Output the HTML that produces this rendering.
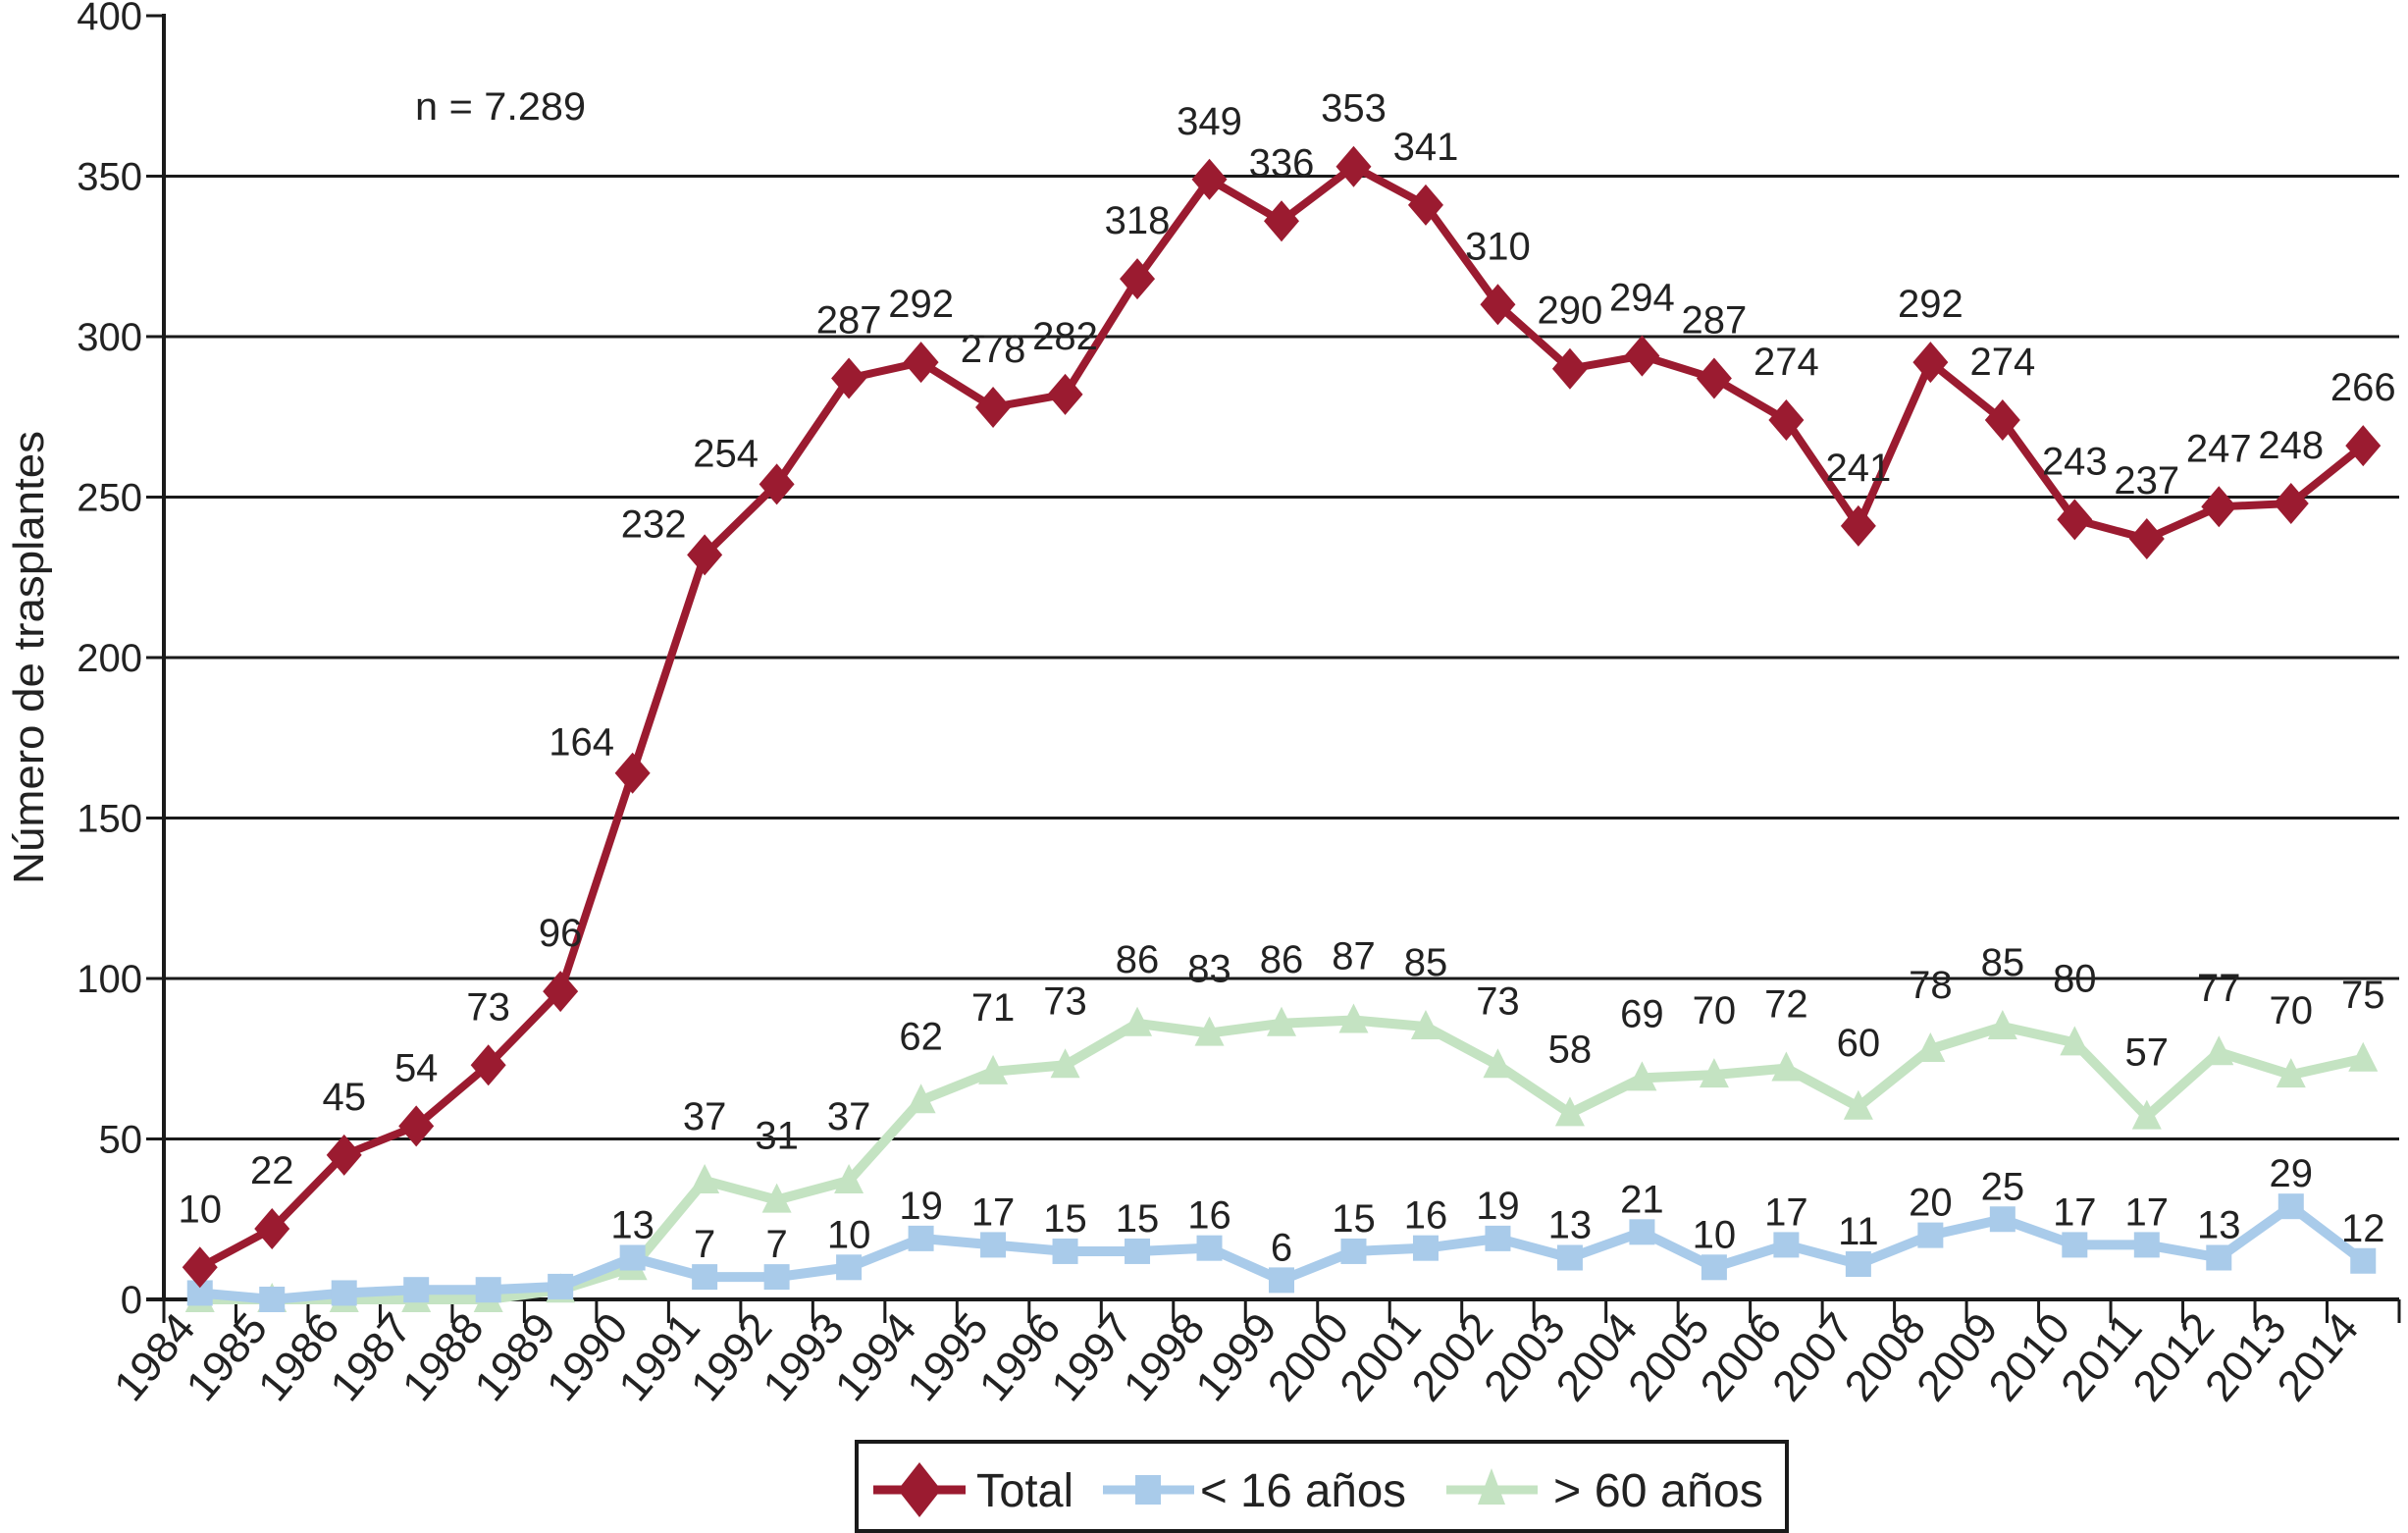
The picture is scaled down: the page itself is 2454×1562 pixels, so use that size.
<!DOCTYPE html>
<html><head><meta charset="utf-8"><style>
html,body{margin:0;padding:0;background:#fff;}
svg{display:block;font-family:"Liberation Sans",Arial,sans-serif;}
</style></head><body>
<svg id="chart" width="2454" height="1562" viewBox="0 0 2454 1562" xmlns="http://www.w3.org/2000/svg"></svg>
<script>
const years = [1984,1985,1986,1987,1988,1989,1990,1991,1992,1993,1994,1995,1996,1997,1998,1999,2000,2001,2002,2003,2004,2005,2006,2007,2008,2009,2010,2011,2012,2013,2014];
const totalValues = [10,22,45,54,73,96,164,232,254,287,292,278,282,318,349,336,353,341,310,290,294,287,274,241,292,274,243,237,247,248,266];
const under16Values = [2,0,2,3,3,4,13,7,7,10,19,17,15,15,16,6,15,16,19,13,21,10,17,11,20,25,17,17,13,29,12];
const over60Values = [0,0,0,0,0,3,10,37,31,37,62,71,73,86,83,86,87,85,73,58,69,70,72,60,78,85,80,57,77,70,75];
const yTicks = [0,50,100,150,200,250,300,350,400];
const under16LabelStart = 6;
const over60LabelStart = 7;

const NS = "http://www.w3.org/2000/svg";
const svg = document.getElementById('chart');
const L = 167, R = 2445, TOP = 16, BOT = 1324, YMAX = 400;
const band = (R - L) / years.length;
const xs = i => L + band * (i + 0.5);
const ys = v => BOT - (v / YMAX) * (BOT - TOP);
function mk(tag, attrs, parent) {
  const e = document.createElementNS(NS, tag);
  for (const k in attrs) e.setAttribute(k, attrs[k]);
  (parent || svg).appendChild(e);
  return e;
}
const C_TOT = '#9b1b30', C_BLUE = '#a9cbea', C_GREEN = '#c4e3c2';

yTicks.forEach(v => {
  const y = ys(v);
  if (v > 0 && v < YMAX) {
    const g = mk('line', {x1: L, x2: R, y1: y, y2: y, stroke: '#1a1a1a', 'stroke-width': 3});
    
    
  }
  const t = mk('line', {x1: L - 18, x2: L, y1: y, y2: y, stroke: '#1a1a1a', 'stroke-width': 3});
  
  
  const lb = mk('text', {x: L - 22, y: y + 14, 'text-anchor': 'end', 'font-size': 40, fill: '#222'});
  lb.textContent = v;
  
  
});
const ya = mk('line', {x1: L, x2: L, y1: TOP - 2, y2: BOT, stroke: '#1a1a1a', 'stroke-width': 4});


const xa = mk('line', {x1: L - 18, x2: R, y1: BOT, y2: BOT, stroke: '#1a1a1a', 'stroke-width': 4});



for (let i = 0; i <= years.length; i++) {
  const x = L + band * i;
  const t = mk('line', {x1: x, x2: x, y1: BOT, y2: BOT + 24, stroke: '#1a1a1a', 'stroke-width': 3});
  
  
}
years.forEach((yr, i) => {
  const x = L + band * i + 34, y = BOT + 30;
  const t = mk('text', {x: x, y: y, 'text-anchor': 'end', 'font-size': 44, fill: '#222', textLength: 100, lengthAdjust: 'spacingAndGlyphs', transform: `rotate(-50 ${x} ${y})`});
  t.textContent = yr;
  
  
});

function series(vals, color, width, name) {
  const pts = vals.map((v, i) => xs(i) + ',' + ys(v)).join(' ');
  const p = mk('polyline', {points: pts, fill: 'none', stroke: color, 'stroke-width': width, 'stroke-linejoin': 'round'});
  
  
}
series(over60Values, C_GREEN, 10, 'over60');
series(under16Values, C_BLUE, 10, 'under16');
series(totalValues, C_TOT, 8, 'total');

over60Values.forEach((v, i) => {
  const x = xs(i), y = ys(v);
  const m = mk('polygon', {points: `${x},${y - 17} ${x - 15},${y + 13} ${x + 15},${y + 13}`, fill: C_GREEN});
  
  
});
under16Values.forEach((v, i) => {
  const x = xs(i), y = ys(v);
  const m = mk('rect', {x: x - 13, y: y - 13, width: 26, height: 26, fill: C_BLUE});
  
  
});
totalValues.forEach((v, i) => {
  const x = xs(i), y = ys(v);
  const m = mk('polygon', {points: `${x},${y - 21} ${x + 18},${y} ${x},${y + 21} ${x - 18},${y}`, fill: C_TOT});
  
  
});

totalValues.forEach((v, i) => {
  const steep = (i >= 6 && i <= 8);
  const x = xs(i) - (steep ? 52 : 0), y = ys(v) - (steep ? 18 : 46);
  const t = mk('text', {x: x, y: y, 'text-anchor': 'middle', 'font-size': 40, fill: '#222'});
  t.textContent = v;
  
  
});
under16Values.forEach((v, i) => {
  if (i < under16LabelStart) return;
  const t = mk('text', {x: xs(i), y: ys(v) - 20, 'text-anchor': 'middle', 'font-size': 40, fill: '#222'});
  t.textContent = v;
  
  
});
over60Values.forEach((v, i) => {
  if (i < over60LabelStart) return;
  const t = mk('text', {x: xs(i), y: ys(v) - 52, 'text-anchor': 'middle', 'font-size': 40, fill: '#222'});
  t.textContent = v;
  
  
});
</script>
<svg style="position:absolute;left:0;top:0" width="2454" height="1562">
  <text x="44" y="670" transform="rotate(-90 44 670)" text-anchor="middle" font-size="44" textLength="462" lengthAdjust="spacingAndGlyphs" fill="#222" font-family="Liberation Sans, sans-serif">Número de trasplantes</text>
  <text x="423" y="122" font-size="40" textLength="174" lengthAdjust="spacingAndGlyphs" fill="#222" font-family="Liberation Sans, sans-serif">n = 7.289</text>
  <g font-family="Liberation Sans, sans-serif">
    <rect x="873" y="1469" width="948" height="91" fill="#fff" stroke="#1a1a1a" stroke-width="4"/>
    <g>
      <line x1="890" x2="984" y1="1518" y2="1518" stroke="#9b1b30" stroke-width="9"/>
      <polygon points="937,1490 959,1518 937,1546 915,1518" fill="#9b1b30"/>
      <text x="995" y="1535" font-size="48" textLength="99" lengthAdjust="spacingAndGlyphs" fill="#222">Total</text>
    </g>
    <g>
      <line x1="1124" x2="1217" y1="1518" y2="1518" stroke="#a9cbea" stroke-width="9"/>
      <rect x="1157" y="1503" width="26" height="30" fill="#a9cbea"/>
      <text x="1223" y="1535" font-size="48" textLength="210" lengthAdjust="spacingAndGlyphs" fill="#222">&lt; 16 años</text>
    </g>
    <g>
      <line x1="1474" x2="1567" y1="1518" y2="1518" stroke="#c4e3c2" stroke-width="9"/>
      <polygon points="1520,1496 1534,1533 1506,1533" fill="#c4e3c2"/>
      <text x="1583" y="1535" font-size="48" textLength="214" lengthAdjust="spacingAndGlyphs" fill="#222">&gt; 60 años</text>
    </g>
  </g>
</svg>
</body></html>
